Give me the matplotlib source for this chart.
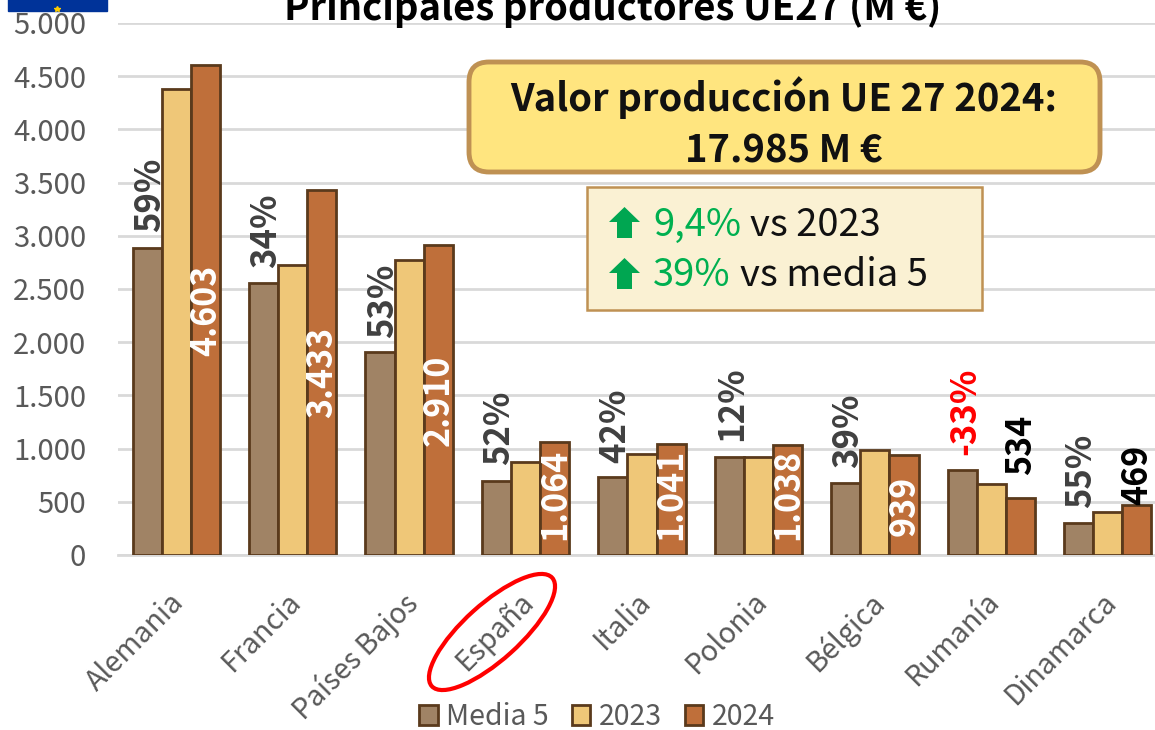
import numpy as np
import matplotlib
matplotlib.use('Agg')
import matplotlib.pyplot as plt
from matplotlib.patches import Ellipse, FancyBboxPatch, FancyArrow, Rectangle
from matplotlib.transforms import ScaledTranslation

plt.rcParams['font.family'] = ['Noto Sans CJK SC', 'DejaVu Sans']

#data
paises = ['Alemania', 'Francia', 'Países Bajos', 'España', 'Italia', 'Polonia', 'Bélgica', 'Rumanía', 'Dinamarca']
media5 = [2890, 2555, 1905, 700, 735, 925, 675, 795, 303]
v2023 = [4380, 2725, 2770, 870, 945, 920, 990, 670, 400]
v2024 = [4603, 3433, 2910, 1064, 1041, 1038, 939, 534, 469]
etiquetas_2024 = ['4.603', '3.433', '2.910', '1.064', '1.041', '1.038', '939', '534', '469']
pct = ['59%', '34%', '53%', '52%', '42%', '12%', '39%', '-33%', '55%']
yticks = [0, 500, 1000, 1500, 2000, 2500, 3000, 3500, 4000, 4500, 5000]
ytick_labels = ['0', '500', '1.000', '1.500', '2.000', '2.500', '3.000', '3.500', '4.000', '4.500', '5.000']

#label heights along the axis
pct_y = [3383, 3045, 2387, 1194, 1212, 1419, 1165, 1353, 789]
lab_y = [2303, 1720, 1457, 573, 573, 573, 460, 1034, 752]
lab_col = ['white'] * 7 + ['black'] * 2

W, H = 1155, 730
fig = plt.figure(figsize=(W/100, H/100), dpi=100)
#the plot area runs past the right edge of the picture
ax = fig.add_axes([118/W, 1-555/H, 1048/W, 532/H])

x = np.arange(len(paises))
bw = 0.25
edge = '#5A3A1C'
ax.bar(x-bw, media5, bw, color='#A08365', edgecolor=edge, lw=2, label='Media 5', zorder=3)
ax.bar(x, v2023, bw, color='#EFC778', edgecolor=edge, lw=2, label='2023', zorder=3)
ax.bar(x+bw, v2024, bw, color='#BF6F3A', edgecolor=edge, lw=2, label='2024', zorder=3)

for i in range(len(paises)):
    ax.text(x[i]-bw+0.02, pct_y[i], pct[i], rotation=90, ha='center', va='center', fontsize=25,
            fontweight='bold', color='red' if pct[i].startswith('-') else '#404040', zorder=5)
    ax.text(x[i]+bw, lab_y[i], etiquetas_2024[i], rotation=90, ha='center', va='center', fontsize=24.5,
            fontweight='bold', color=lab_col[i], zorder=5)

ax.set_xlim(-0.5, 8.5)
ax.set_ylim(0, 5000)
ax.set_xticks(x)
ax.set_xticklabels(paises, rotation=45, ha='right', rotation_mode='anchor', fontsize=20.5, color='#595959')
ax.set_yticks(yticks)
ax.set_yticklabels(ytick_labels, fontsize=21, color='#595959')
ax.tick_params(length=0, axis='both')
ax.tick_params(axis='x', pad=23)
ax.tick_params(axis='y', pad=23)
ax.grid(axis='y', color='#D9D9D9', lw=2, zorder=0)
ax.set_axisbelow(True)
for s in ['top', 'right', 'left']:
    ax.spines[s].set_visible(False)
ax.spines['bottom'].set_color('#D9D9D9')
ax.spines['bottom'].set_linewidth(2)

#nudge the slanted labels to the left
shift = ScaledTranslation(-7/100, 0, fig.dpi_scale_trans)
for lab in ax.get_xticklabels():
    lab.set_transform(lab.get_transform() + shift)

ax.legend(loc='center', bbox_to_anchor=(597/W, 1-717/H), bbox_transform=fig.transFigure, ncol=3,
          frameon=False, fontsize=20.5, handlelength=0.65, handleheight=0.65, handletextpad=0.3,
          columnspacing=0.8, labelcolor='#595959', borderpad=0, borderaxespad=0)

#overlay in pixels for the shapes on top of the chart
ov = fig.add_axes([0, 0, 1, 1], facecolor='none')
ov.set_xlim(0, W)
ov.set_ylim(H, 0)
ov.axis('off')

ov.text(613, 20, 'Principales productores UE27 (M €)', ha='center', va='baseline', fontsize=27.5,
        fontweight='bold', color='black')

#flag cut by the top edge
ov.add_patch(Rectangle((8, -5), 99, 16, color='#003399'))
ov.plot([57], [9], marker='*', color='#FFCC00', ms=4)

#callouts
ov.add_patch(FancyBboxPatch((484, 77), 601, 80, boxstyle='round,pad=15,rounding_size=20',
                            fc='#FFE57F', ec='#BF9153', lw=3.5, zorder=6))
ov.text(784, 98, 'Valor producción UE 27 2024:', ha='center', va='center', fontsize=27.5,
        fontweight='bold', color='#111111', zorder=7)
ov.text(784, 151, '17.985 M €', ha='center', va='center', fontsize=27.5,
        fontweight='bold', color='#111111', zorder=7)

ov.add_patch(Rectangle((587, 187), 395, 123, fc='#FAF1D3', ec='#BF9153', lw=1.8, zorder=6))
for yc, a, b, xb in [(223, '9,4%', 'vs 2023', 750), (274, '39%', 'vs media 5', 740)]:
    ov.add_patch(FancyArrow(624.5, yc+15, 0, -31, width=15, head_width=31, head_length=15,
                            length_includes_head=True, color='#00A651', lw=0, zorder=7))
    ov.text(653, yc+2, a, ha='left', va='center', fontsize=27.5, color='#00B050', zorder=7)
    ov.text(xb, yc+2, b, ha='left', va='center', fontsize=27.5, color='#111111', zorder=7)

#circle around Spain
ov.add_patch(Ellipse((492, 632), 162, 56, angle=-42, fill=False, ec='red', lw=3, zorder=7))

fig.savefig('out.png', dpi=100)
